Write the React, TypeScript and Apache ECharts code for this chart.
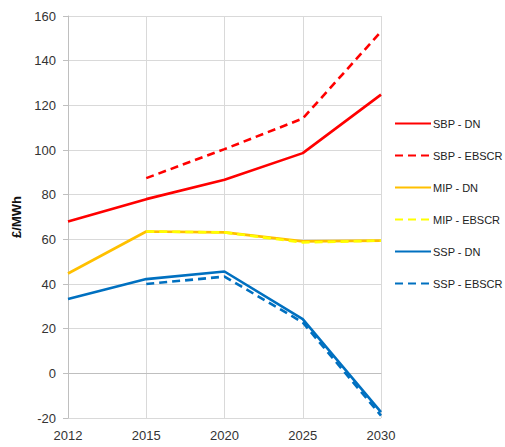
import React, { useEffect, useRef } from "react";
import * as echarts from "echarts";

const years = ["2012", "2015", "2020", "2025", "2030"];
const sbpDN = [68, 78, 86.7, 98.6, 124.8];
const sbpEBSCR = [null, 87.4, 100.4, 114.1, 153];
const mipDN = [44.7, 63.5, 63.1, 59.1, 59.4];
const mipEBSCR = [null, 63.5, 63.1, 58.6, 59.4];
const sspDN = [33.3, 42.2, 45.6, 24.3, -17.4];
const sspEBSCR = [null, 40.0, 43.3, 22.8, -18.9];

const RED = "#FF0000";
const ORANGE = "#FFC000";
const YELLOW = "#FFFF00";
const BLUE = "#0070C0";

function mk(name: string, data: (number | null)[], color: string, dashed: boolean) {
  return {
    name,
    type: "line",
    data,
    symbol: "none",
    showSymbol: false,
    connectNulls: false,
    lineStyle: { color, width: 2.6, type: dashed ? [8, 5] : "solid" },
    itemStyle: { color },
  };
}

export default function App() {
  const ref = useRef<HTMLDivElement>(null);
  useEffect(() => {
    if (!ref.current) return;
    const chart = echarts.init(ref.current, undefined, { renderer: "svg" });
    chart.setOption({
      animation: false,
      textStyle: { fontFamily: "Liberation Sans, Arial, sans-serif" },
      grid: { left: 68, right: 124, top: 16, bottom: 29, containLabel: false },
      legend: {
        orient: "vertical",
        left: 394,
        top: 118,
        padding: 0,
        itemWidth: 36,
        itemHeight: 14,
        itemGap: 20.8,
        itemStyle: { opacity: 0 },
        textStyle: { fontSize: 11, color: "#222", padding: [0, 0, 0, -3] },
        data: ["SBP - DN", "SBP - EBSCR", "MIP - DN", "MIP - EBSCR", "SSP - DN", "SSP - EBSCR"],
      },
      xAxis: {
        type: "category",
        data: years,
        boundaryGap: false,
        axisLine: { lineStyle: { color: "#BFBFBF" } },
        axisTick: { show: false },
        axisLabel: { fontSize: 13, color: "#333", margin: 11 },
        splitLine: { show: true, lineStyle: { color: "#D9D9D9" } },
      },
      yAxis: {
        type: "value",
        min: -20,
        max: 160,
        interval: 20,
        name: "£/MWh",
        nameLocation: "middle",
        nameGap: 42,
        nameTextStyle: { fontSize: 13, fontWeight: "bold", color: "#111" },
        axisLine: { show: true, lineStyle: { color: "#BFBFBF" } },
        axisTick: { show: true, length: 5, lineStyle: { color: "#BFBFBF" } },
        axisLabel: { fontSize: 13, color: "#333", margin: 12 },
        splitLine: { show: true, lineStyle: { color: "#D9D9D9" } },
      },
      series: [
        mk("SBP - DN", sbpDN, RED, false),
        mk("SBP - EBSCR", sbpEBSCR, RED, true),
        mk("MIP - DN", mipDN, ORANGE, false),
        mk("MIP - EBSCR", mipEBSCR, YELLOW, true),
        mk("SSP - DN", sspDN, BLUE, false),
        mk("SSP - EBSCR", sspEBSCR, BLUE, true),
      ],
    });
    return () => chart.dispose();
  }, []);
  return <div ref={ref} style={{ width: 505, height: 447, position: "absolute", left: 0, top: 0 }} />;
}
